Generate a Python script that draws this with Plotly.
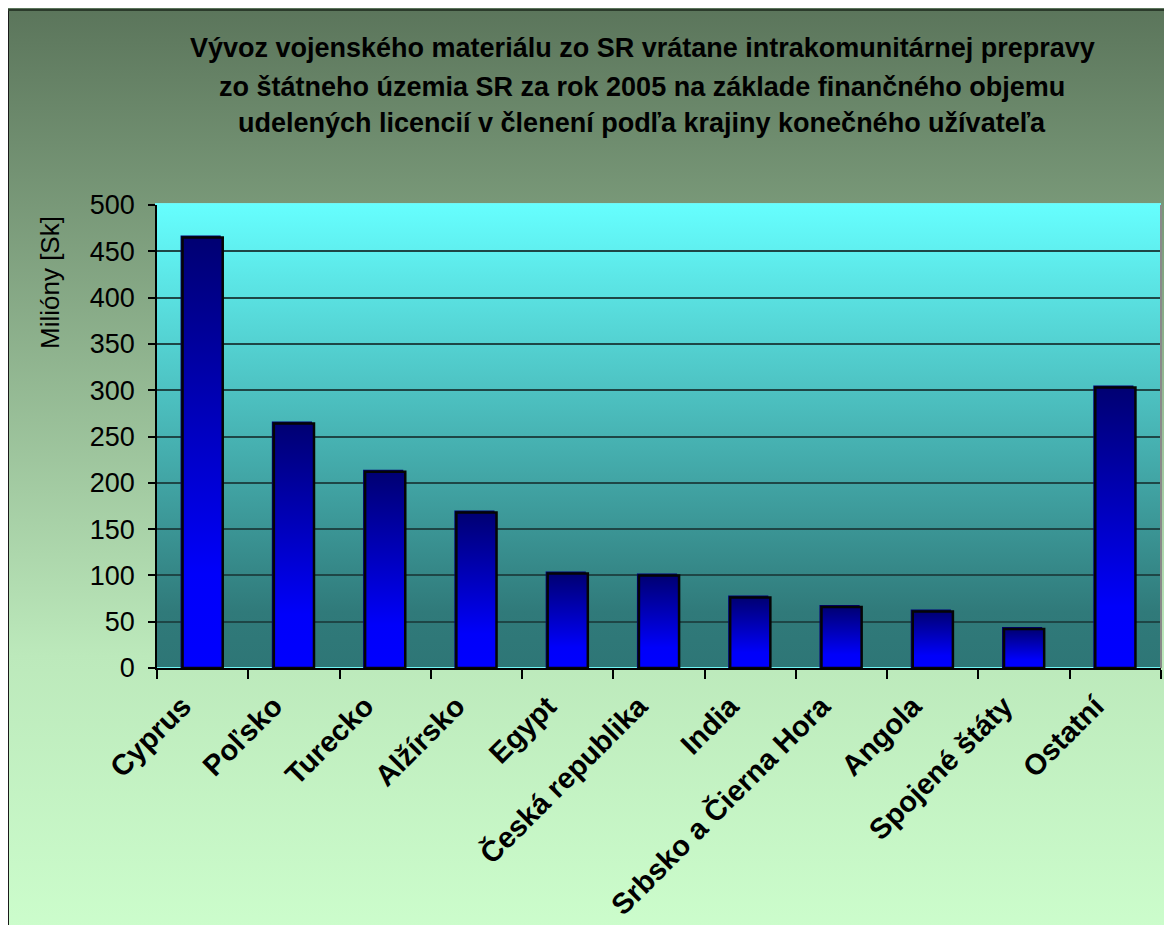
import plotly.graph_objects as go

# ---------------- data ----------------
categories = ["Cyprus", "Poľsko", "Turecko", "Alžírsko", "Egypt", "Česká republika",
              "India", "Srbsko a Čierna Hora", "Angola", "Spojené štáty", "Ostatní"]
values = [465, 264, 212, 168, 102, 100, 76, 66, 61, 42, 303]
y_ticks = [0, 50, 100, 150, 200, 250, 300, 350, 400, 450, 500]
title_lines = [
    "Vývoz vojenského materiálu zo SR vrátane intrakomunitárnej prepravy",
    "zo štátneho územia SR za rok 2005 na základe finančného objemu",
    "udelených licencií v členení podľa krajiny konečného užívateľa",
]
y_title = "Milióny [Sk]"

# ---------------- layout geometry (screen pixels; page body margin = 8) ----------------
W, H = 1172, 925
OFF = 8
PL, PR, PT, PB = 157, 1161, 205, 668
FONT = "Liberation Sans, Arial, sans-serif"


def fx(p):
    return (p - OFF) / W


def fy(p):
    return 1 - (p - OFF) / H


fig = go.Figure()

# outer chart-area gradient background
fig.add_trace(go.Scatter(
    x=[0, 1, 1, 0, 0], y=[0, 0, 1, 1, 0], xaxis="x", yaxis="y",
    fill="toself", mode="lines", line=dict(width=0),
    fillgradient=dict(type="vertical",
                      colorscale=[[0, "#ccfdcc"], [0.3, "#bce9bb"], [1, "#5b755b"]]),
    hoverinfo="skip", showlegend=False))

# plot-area gradient background
fig.add_trace(go.Scatter(
    x=[0, 1, 1, 0, 0], y=[0, 0, 1, 1, 0], xaxis="x2", yaxis="y2",
    fill="toself", mode="lines", line=dict(color="#70f4f4", width=2),
    fillgradient=dict(type="vertical",
                      colorscale=[[0, "#2e7676"], [0.12, "#307a7a"], [1, "#66ffff"]]),
    hoverinfo="skip", showlegend=False))

# bars
idx = list(range(len(categories)))
half = 0.22
dx = 2 / ((PR - PL) / len(categories))
dy = 2 / ((PB - PT) / 500)
fig.add_trace(go.Bar(
    x=[i - dx for i in idx], y=[v + dy for v in values], width=2 * half,
    marker=dict(color="#00007a", line=dict(width=0)),
    xaxis="x3", yaxis="y3", hoverinfo="skip", showlegend=False))
for i, v in zip(idx, values):
    fig.add_trace(go.Scatter(
        x=[i - half, i + half, i + half, i - half, i - half],
        y=[0, 0, v, v, 0], xaxis="x3", yaxis="y3",
        fill="toself", mode="lines", line=dict(color="#050505", width=2.5),
        fillgradient=dict(type="vertical",
                          colorscale=[[0, "#0000ff"], [0.22, "#0000fa"], [1, "#000072"]]),
        hoverinfo="skip", showlegend=False))

hidden = dict(visible=False, fixedrange=True, automargin=False)
fig.update_layout(
    template="none",
    width=W, height=H, margin=dict(l=0, r=0, t=0, b=0, autoexpand=False),
    paper_bgcolor="white", plot_bgcolor="rgba(0,0,0,0)", showlegend=False,
    xaxis=dict(domain=[0, 1], range=[0, 1], **hidden),
    yaxis=dict(domain=[0, 1], range=[0, 1], **hidden),
    xaxis2=dict(domain=[fx(PL - 2), fx(PR)], range=[0, 1], anchor="y2", **hidden),
    yaxis2=dict(domain=[fy(PB), fy(PT - 2)], range=[0, 1], anchor="x2", **hidden),
    xaxis3=dict(
        domain=[fx(PL), fx(PR)], range=[-0.5, len(categories) - 0.5], anchor="y3",
        automargin=False, fixedrange=True,
        tickmode="array", tickvals=idx, ticktext=categories, tickangle=-45,
        ticks="", showgrid=False, zeroline=False,
        showline=True, linecolor="black", linewidth=1.5,
        minor=dict(tickmode="array", tickvals=[i - 0.5 for i in range(len(categories) + 1)],
                   ticks="outside", ticklen=9, tickcolor="black", tickwidth=1.5, showgrid=False),
        tickfont=dict(family=FONT, size=29, color="black", weight="bold"),
        ticklabelstandoff=8, ticklabelshift=-20,
    ),
    yaxis3=dict(
        domain=[fy(PB), fy(PT)], range=[0, 500], anchor="x3",
        automargin=False, fixedrange=True,
        tickmode="array", tickvals=y_ticks, ticks="outside", ticklen=7,
        tickcolor="black", tickwidth=1.5,
        showline=True, linecolor="black", linewidth=1.5,
        showgrid=True, gridcolor="#1e4646", gridwidth=1.5, zeroline=False,
        tickfont=dict(family=FONT, size=27, color="black"),
        ticklabelstandoff=8,
    ),
    shapes=[
        dict(type="line", xref="paper", yref="paper", x0=fx(8), x1=fx(8), y0=0, y1=fy(10),
             line=dict(color="#1a1a1a", width=2)),
        dict(type="line", xref="paper", yref="paper", x0=fx(8), x1=1, y0=fy(10), y1=fy(10),
             line=dict(color="#2b3b2b", width=2)),
        dict(type="line", xref="paper", yref="paper", x0=fx(PR), x1=fx(PR), y0=fy(PB), y1=fy(PT),
             line=dict(color="#8a8a8a", width=2)),
    ],
)

annotations = []
for line, yp in zip(title_lines, [48, 87, 123]):
    annotations.append(dict(text=line, xref="paper", yref="paper", x=fx(642), y=fy(yp),
                            xanchor="center", yanchor="middle", showarrow=False,
                            font=dict(family=FONT, size=27, color="black", weight="bold")))
annotations.append(dict(text=y_title, xref="paper", yref="paper", x=fx(50), y=fy(283),
                        xanchor="center", yanchor="middle", showarrow=False, textangle=-90,
                        font=dict(family=FONT, size=26, color="black")))
fig.update_layout(annotations=annotations)

fig.write_html("out.html")
